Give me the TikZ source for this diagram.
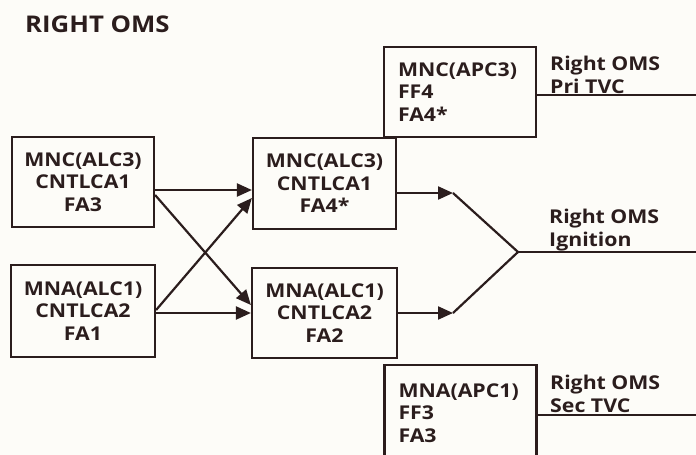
\documentclass[tikz,border=0pt]{standalone}
\usepackage{fontspec}
\setmainfont{Open Sans}[FakeStretch=1.12]
\usetikzlibrary{arrows.meta}
\definecolor{ink}{HTML}{2B1D1D}
\definecolor{paper}{HTML}{FDFCF8}
\begin{document}
\begin{tikzpicture}[x=1pt,y=-1pt,
  box/.style={draw=ink, line width=2.2pt, align=center, text=ink, inner sep=0pt,
    font=\bfseries\fontsize{19}{22.5}\selectfont},
  lbox/.style={box, align=left, text width=124pt, inner xsep=14pt},
  wire/.style={draw=ink, line width=2.2pt},
  arr/.style={wire, -{Triangle[length=15pt,width=13pt]}},
  lbl/.style={text=ink, align=left, anchor=west, inner sep=0pt,
    font=\bfseries\fontsize{19}{22.5}\selectfont},
  ttl/.style={text=ink, anchor=west, inner sep=0pt,
    font=\bfseries\fontsize{23}{27}\selectfont}]
\fill[paper] (0,0) rectangle (696,455);
\useasboundingbox (0,0) rectangle (696,455);
\clip (0,0) rectangle (696,455);

\node[ttl] (T) at (25,24) {RIGHT OMS};

\node[box, minimum width=142pt, minimum height=90pt] (A) at (83,182) {MNC(ALC3)\\CNTLCA1\\FA3};
\node[box, minimum width=144pt, minimum height=92pt] (B) at (83,311) {MNA(ALC1)\\CNTLCA2\\FA1};
\node[box, minimum width=143pt, minimum height=91pt] (C) at (324.5,183.5) {MNC(ALC3)\\CNTLCA1\\FA4*};
\node[box, minimum width=145pt, minimum height=90pt] (D) at (324.5,313) {MNA(ALC1)\\CNTLCA2\\FA2};
\node[lbox, minimum height=90pt] (E) at (460,92) {MNC(APC3)\\FF4\\FA4*};
\node[lbox, minimum height=96pt] (F) at (460.5,413) {MNA(APC1)\\FF3\\FA3};

\coordinate (c1) at (453,193);
\coordinate (d1) at (453,313);
\coordinate (J) at (518,252);
\coordinate (oE) at (696,95);
\coordinate (oJ) at (696,252);
\coordinate (oF) at (696,415);

\draw[arr] ([yshift=-8pt]A.east) -- ([yshift=-6.5pt]C.west);
\draw[arr] ([yshift=-13pt]A.east) -- ([yshift=8pt]D.west);
\draw[arr] ([yshift=1pt]B.east) -- ([yshift=-14.5pt]C.west);
\draw[arr] ([yshift=-2pt]B.east) -- (D.west);
\draw[arr] ([yshift=-9.5pt]C.east) -- (c1);
\draw[arr] (D.east) -- (d1);
\draw[wire] (c1) -- (J) -- (d1);
\draw[wire] (J) -- (oJ);
\draw[wire] ([yshift=-3pt]E.east) -- (oE);
\draw[wire] ([yshift=-2pt]F.east) -- (oF);

\node[lbl] (LE) at (550,75) {Right OMS\\Pri TVC};
\node[lbl] (LJ) at (549,230) {Right OMS\\Ignition};
\node[lbl] (LF) at (550,394) {Right OMS\\Sec TVC};
\end{tikzpicture}
\end{document}
